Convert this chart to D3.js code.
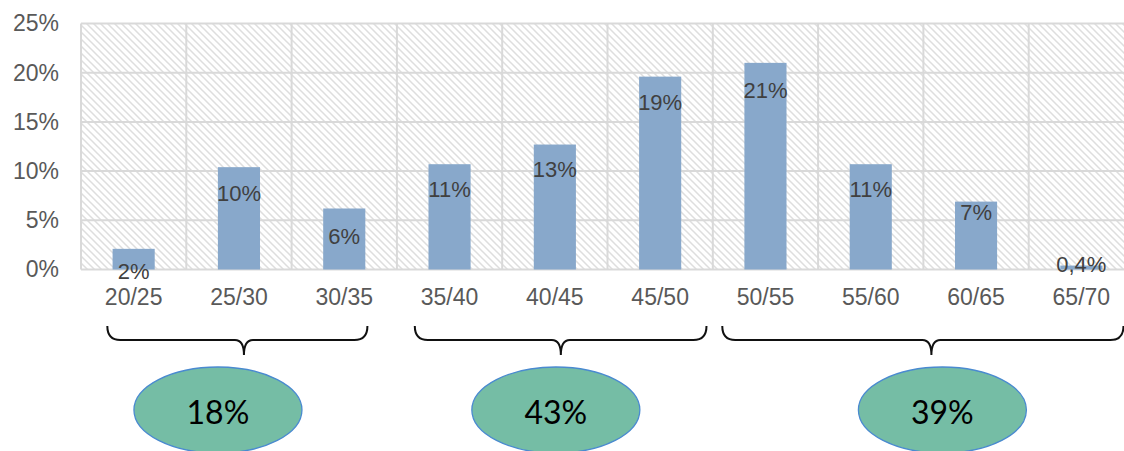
<!DOCTYPE html>
<html lang="en">
  <head>
    <meta charset="utf-8" />
    <title>Age groups</title>
    <style>
      body { margin: 0; background: #fff; }
      svg { display: block; }
    </style>
  </head>
  <body>
    <svg id="viz"></svg>
    <script src="https://cdn.jsdelivr.net/npm/d3@7/dist/d3.min.js"></script>
    <script>
        var categories = ["20/25", "25/30", "30/35", "35/40", "40/45", "45/50", "50/55", "55/60", "60/65", "65/70"];
        var values = [2.1, 10.4, 6.2, 10.7, 12.7, 19.6, 21.0, 10.7, 6.9, 0.4];
        var valueLabels = ["2%", "10%", "6%", "11%", "13%", "19%", "21%", "11%", "7%", "0,4%"];
        var yTicks = [0, 5, 10, 15, 20, 25];
        var groupFirst = [0, 3, 6];
        var groupLast = [2, 5, 9];
        var groupLabels = ["18%", "43%", "39%"];

        var width = 1124;
        var height = 451;

        var svg = d3.select("#viz")
            .attr("width", width)
            .attr("height", height);

        // hatched plot background
        var pat = svg.append("defs").append("pattern")
            .attr("id", "hatch")
            .attr("patternUnits", "userSpaceOnUse")
            .attr("width", 7)
            .attr("height", 7);
        pat.append("rect").attr("width", 7).attr("height", 7).attr("fill", "#fff");
        pat.append("path")
            .attr("d", "M-2,-2 L9,9 M-2,5 L2,9 M5,-2 L9,2")
            .attr("stroke", "#dedede")
            .attr("stroke-width", 1.5);

        var x = d3.scaleBand()
            .domain(categories)
            .range([81, 1134])
            .padding(0);

        var y = d3.scaleLinear()
            .domain([0, 25])
            .range([269.5, 23.5]);

        var barW = x.bandwidth() * 0.4;

        svg.append("rect")
            .attr("x", x.range()[0])
            .attr("y", y(25))
            .attr("width", x.range()[1] - x.range()[0])
            .attr("height", y(0) - y(25))
            .attr("fill", "url(#hatch)");

        // grid
        var grid = svg.append("g").attr("stroke", "#d9d9d9").attr("stroke-width", 2);
        grid.selectAll("line.h")
            .data(yTicks)
            .enter()
            .append("line")
            .attr("class", "h")
            .attr("x1", x.range()[0])
            .attr("x2", x.range()[1])
            .attr("y1", function(d) { return y(d); })
            .attr("y2", function(d) { return y(d); });
        grid.selectAll("line.v")
            .data(categories)
            .enter()
            .append("line")
            .attr("class", "v")
            .attr("x1", function(d) { return x(d); })
            .attr("x2", function(d) { return x(d); })
            .attr("y1", y(25))
            .attr("y2", y(0));

        // bars
        svg.append("g").selectAll("rect")
            .data(values)
            .enter()
            .append("rect")
            .attr("x", function(d, i) { return x(categories[i]) + (x.bandwidth() - barW) / 2; })
            .attr("y", function(d) { return y(d); })
            .attr("width", barW)
            .attr("height", function(d) { return y(0) - y(d); })
            .attr("fill", "#88a8cb");

        // axes
        var yAxis = svg.append("g")
            .attr("transform", "translate(" + x.range()[0] + ",0)")
            .call(d3.axisLeft(y).tickValues(yTicks).tickFormat(function(d) { return d + "%"; }).tickSize(0).tickPadding(22));
        yAxis.select(".domain").remove();

        var xAxis = svg.append("g")
            .attr("transform", "translate(0," + y(0) + ")")
            .call(d3.axisBottom(x).tickSize(0).tickPadding(19.5));
        xAxis.select(".domain").remove();

        svg.selectAll(".tick text")
            .attr("fill", "#595959")
            .style("font-family", "'Liberation Sans', Arial, sans-serif")
            .style("font-size", "23px");

        // data labels (inside end, some nudged as in the original)
        var labelShift = [22, 26, 28, 25, 25, 25, 27, 25, 10, -1];
        svg.append("g").selectAll("text")
            .data(values)
            .enter()
            .append("text")
            .attr("x", function(d, i) { return x(categories[i]) + x.bandwidth() / 2; })
            .attr("y", function(d, i) { return y(d) + labelShift[i]; })
            .attr("dy", "0.36em")
            .attr("text-anchor", "middle")
            .attr("fill", "#404040")
            .style("font-family", "'Liberation Sans', Arial, sans-serif")
            .style("font-size", "22px")
            .text(function(d, i) { return valueLabels[i]; });

        // braces under each age group
        var insetL = [0.25, 0.17, 0.09];
        var insetR = [0.28, 0.06, 0.1];
        var tipDx = [5, 6, 8];
        var ellDx = [-21, 1, 19];

        function bracePath(x0, x1, xm) {
            var top = 326, line = 340, tip = 355, r = 13, rt = 9;
            return "M" + x0 + "," + top +
                " Q" + x0 + "," + line + " " + (x0 + r) + "," + line +
                " L" + (xm - rt) + "," + line +
                " Q" + xm + "," + line + " " + xm + "," + tip +
                " Q" + xm + "," + line + " " + (xm + rt) + "," + line +
                " L" + (x1 - r) + "," + line +
                " Q" + x1 + "," + line + " " + x1 + "," + top;
        }

        var groups = svg.append("g").selectAll("g")
            .data(groupLabels)
            .enter()
            .append("g");

        groups.append("path")
            .attr("d", function(d, i) {
                var bw = x.bandwidth();
                var a = x(categories[groupFirst[i]]);
                var b = x(categories[groupLast[i]]) + bw;
                var x0 = a + insetL[i] * bw;
                var x1 = b - insetR[i] * bw;
                return bracePath(x0, x1, (a + b) / 2 + tipDx[i]);
            })
            .attr("fill", "none")
            .attr("stroke", "#111")
            .attr("stroke-width", 2);

        function groupCenter(i) {
            var a = x(categories[groupFirst[i]]);
            var b = x(categories[groupLast[i]]) + x.bandwidth();
            return (a + b) / 2 + ellDx[i];
        }

        groups.append("ellipse")
            .attr("cx", function(d, i) { return groupCenter(i); })
            .attr("cy", 410)
            .attr("rx", 84)
            .attr("ry", 43)
            .attr("fill", "#75bda5")
            .attr("stroke", "#4a8ad0")
            .attr("stroke-width", 1.3);

        groups.append("text")
            .attr("x", function(d, i) { return groupCenter(i); })
            .attr("y", 412)
            .attr("dy", "0.36em")
            .attr("text-anchor", "middle")
            .attr("fill", "#000")
            .style("font-family", "Lato, 'Open Sans', sans-serif")
            .style("font-size", "32px")
            .text(function(d) { return d; });
    </script>
  </body>
</html>
